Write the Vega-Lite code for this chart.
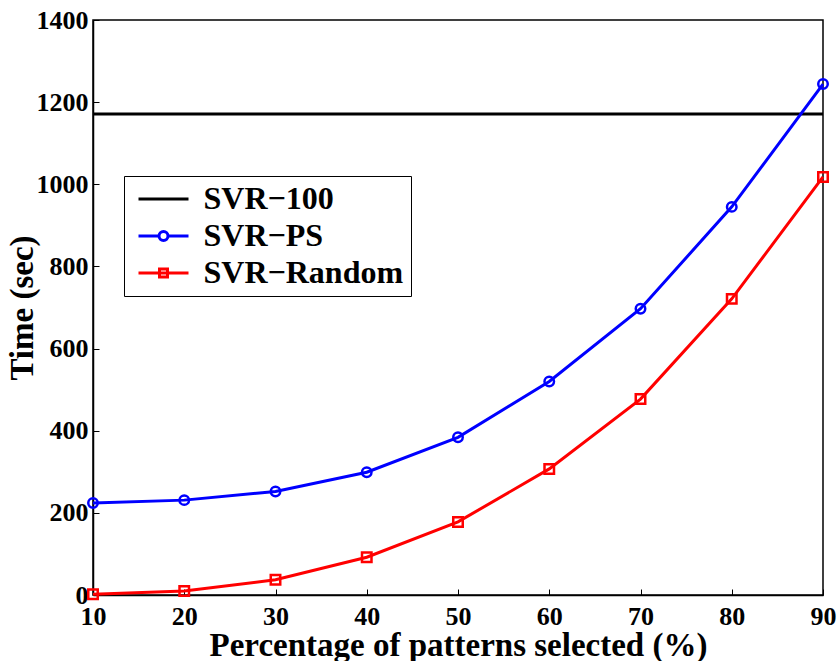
{
  "$schema": "https://vega.github.io/schema/vega-lite/v6.json",
  "width": 730,
  "height": 575,
  "autosize": {"type": "none"},
  "padding": {"left": 93, "top": 20, "right": 15, "bottom": 66},
  "background": "white",
  "config": {
    "view": {"stroke": "black", "strokeWidth": 1.5},
    "font": "Liberation Serif",
    "axis": {
      "labelFont": "Liberation Serif",
      "labelFontWeight": "bold",
      "labelFontSize": 26,
      "labelColor": "black",
      "titleFont": "Liberation Serif",
      "titleFontWeight": "bold",
      "titleFontSize": 33,
      "titleColor": "black",
      "domainColor": "black",
      "domainWidth": 1.5,
      "tickColor": "black",
      "tickSize": -6,
      "tickWidth": 1,
      "grid": false,
      "format": "d"
    }
  },
  "data": {
    "values": [
      {"x": 10, "series": "SVR−100", "y": 1171},
      {"x": 90, "series": "SVR−100", "y": 1171},
      {"x": 10, "series": "SVR−PS", "y": 224},
      {"x": 20, "series": "SVR−PS", "y": 231},
      {"x": 30, "series": "SVR−PS", "y": 252},
      {"x": 40, "series": "SVR−PS", "y": 299},
      {"x": 50, "series": "SVR−PS", "y": 384},
      {"x": 60, "series": "SVR−PS", "y": 520},
      {"x": 70, "series": "SVR−PS", "y": 697},
      {"x": 80, "series": "SVR−PS", "y": 945},
      {"x": 90, "series": "SVR−PS", "y": 1244},
      {"x": 10, "series": "SVR−Random", "y": 2},
      {"x": 20, "series": "SVR−Random", "y": 10},
      {"x": 30, "series": "SVR−Random", "y": 37},
      {"x": 40, "series": "SVR−Random", "y": 92},
      {"x": 50, "series": "SVR−Random", "y": 178},
      {"x": 60, "series": "SVR−Random", "y": 307},
      {"x": 70, "series": "SVR−Random", "y": 477},
      {"x": 80, "series": "SVR−Random", "y": 721},
      {"x": 90, "series": "SVR−Random", "y": 1018}
    ]
  },
  "encoding": {
    "x": {
      "field": "x", "type": "quantitative",
      "scale": {"domain": [10, 90], "nice": false, "zero": false},
      "axis": {"values": [10, 20, 30, 40, 50, 60, 70, 80, 90], "title": "Percentage of patterns selected (%)", "labelPadding": 14, "titlePadding": 0, "labelFlush": false}
    },
    "y": {
      "field": "y", "type": "quantitative",
      "scale": {"domain": [0, 1400], "nice": false},
      "axis": {"values": [0, 200, 400, 600, 800, 1000, 1200, 1400], "title": "Time (sec)", "labelPadding": 11, "titlePadding": -3}
    }
  },
  "layer": [
    {
      "mark": {"type": "line", "strokeWidth": 3, "clip": false},
      "encoding": {
        "color": {
          "field": "series", "type": "nominal",
          "scale": {"domain": ["SVR−100", "SVR−PS", "SVR−Random"], "range": ["black", "blue", "red"]},
          "legend": {
            "title": null, "orient": "none", "legendX": 31, "legendY": 156,
            "strokeColor": "black", "fillColor": "white", "padding": 7,
            "labelFont": "Liberation Serif", "labelFontWeight": "bold", "labelFontSize": 32, "labelColor": "black",
            "labelOffset": 24, "labelLimit": 500, "symbolOffset": 16.5,
            "symbolStrokeWidth": 3, "symbolSize": 400, "rowPadding": 5
          }
        }
      }
    },
    {
      "transform": [{"filter": "datum.series === 'SVR−PS'"}],
      "mark": {"type": "point", "shape": "circle", "filled": false, "size": 90, "strokeWidth": 2.5, "opacity": 1, "color": "blue"}
    },
    {
      "transform": [{"filter": "datum.series === 'SVR−Random'"}],
      "mark": {"type": "point", "shape": "square", "filled": false, "size": 90, "strokeWidth": 2.5, "opacity": 1, "color": "red"}
    },
    {
      "transform": [{"filter": "datum.x < 0"}],
      "mark": {"type": "point", "filled": false, "size": 400, "strokeWidth": 3, "opacity": 1},
      "encoding": {
        "color": {
          "field": "series", "type": "nominal",
          "scale": {"domain": ["SVR−100", "SVR−PS", "SVR−Random"], "range": ["black", "blue", "red"]},
          "legend": {
            "title": null, "orient": "none", "legendX": 31, "legendY": 156,
            "strokeColor": "black", "fillColor": "white", "padding": 7,
            "labelFont": "Liberation Serif", "labelFontWeight": "bold", "labelFontSize": 32, "labelColor": "black",
            "labelOffset": 24, "labelLimit": 500, "symbolOffset": 16.5,
            "symbolStrokeWidth": 3, "symbolSize": 400, "rowPadding": 5
          }
        },
        "shape": {
          "field": "series", "type": "nominal",
          "scale": {"domain": ["SVR−100", "SVR−PS", "SVR−Random"], "range": ["M-2.5,0H2.5", "M-2.5,0H-0.45M0.45,0H2.5M0.45,0A0.45,0.45,0,1,1,-0.45,0A0.45,0.45,0,1,1,0.45,0", "M-2.5,0H2.5M-0.4,-0.4H0.4V0.4H-0.4Z"]},
          "legend": {
            "title": null, "orient": "none", "legendX": 31, "legendY": 156,
            "strokeColor": "black", "fillColor": "white", "padding": 7,
            "labelFont": "Liberation Serif", "labelFontWeight": "bold", "labelFontSize": 32, "labelColor": "black",
            "labelOffset": 24, "labelLimit": 500, "symbolOffset": 16.5,
            "symbolStrokeWidth": 3, "symbolSize": 400, "rowPadding": 5
          }
        }
      }
    }
  ]
}
